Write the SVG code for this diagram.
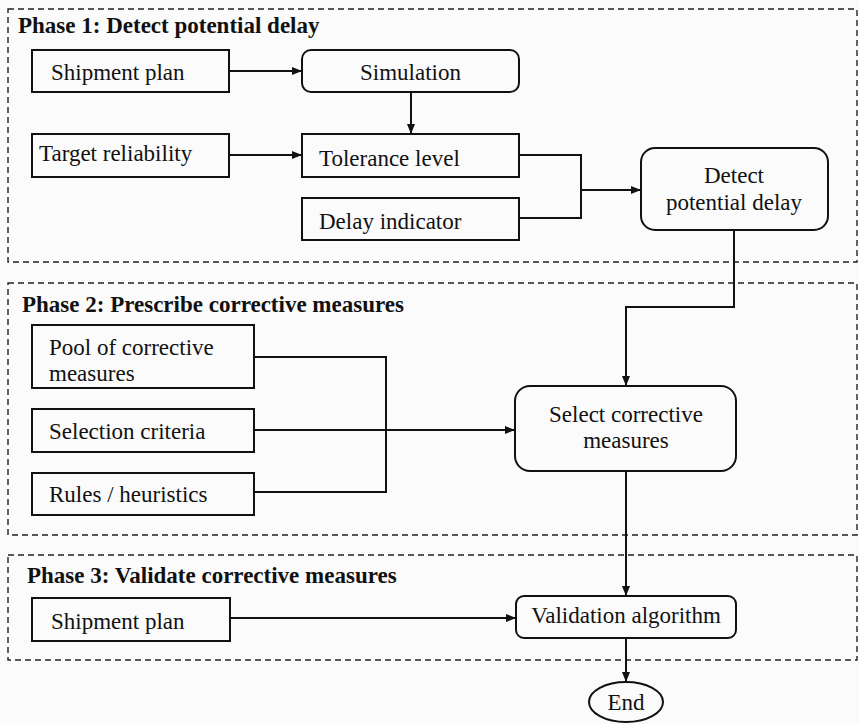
<svg xmlns="http://www.w3.org/2000/svg" width="859" height="724" viewBox="0 0 859 724">
<style>
.phase{fill:none;stroke:#222;stroke-width:1.4;stroke-dasharray:6 4}
.box{fill:none;stroke:#111;stroke-width:2}
.t{font-family:"Liberation Serif","Times New Roman",serif;font-size:23px;fill:#111}
.h{font-family:"Liberation Serif","Times New Roman",serif;font-size:23px;font-weight:bold;fill:#111}
.c{text-anchor:middle}
.ln{fill:none;stroke:#111;stroke-width:2}
</style>
<defs>
<marker id="ah" viewBox="0 0 10 8" refX="10" refY="4" markerWidth="10" markerHeight="8" markerUnits="userSpaceOnUse" orient="auto">
<path d="M0,0 L10,4 L0,8 Z" fill="#111"/>
</marker>
</defs>
<rect width="859" height="724" fill="#fbfbfb"/>
<g id="phase1">
<rect class="phase" x="8" y="9" width="849" height="253"/>
<text class="h" x="18" y="33">Phase 1: Detect potential delay</text>
</g>
<g id="phase2">
<rect class="phase" x="8" y="283" width="849" height="252"/>
<text class="h" x="22" y="312">Phase 2: Prescribe corrective measures</text>
</g>
<g id="phase3">
<rect class="phase" x="8" y="555" width="849" height="105"/>
<text class="h" x="27" y="583">Phase 3: Validate corrective measures</text>
</g>
<g id="shipment1"><rect class="box" x="32" y="50" width="197" height="42"/><text class="t" x="51" y="80">Shipment plan</text></g>
<g id="simulation"><rect class="box" x="302" y="50" width="217" height="42" rx="9"/><text class="t c" x="410.5" y="80">Simulation</text></g>
<g id="target"><rect class="box" x="32" y="134" width="197" height="43"/><text class="t" x="39" y="161">Target reliability</text></g>
<g id="tolerance"><rect class="box" x="302" y="134" width="217" height="43"/><text class="t" x="319" y="166">Tolerance level</text></g>
<g id="delayind"><rect class="box" x="302" y="198" width="217" height="42"/><text class="t" x="319" y="229">Delay indicator</text></g>
<g id="detect"><rect class="box" x="641" y="148" width="187" height="82" rx="14"/><text class="t c" x="734" y="183">Detect</text><text class="t c" x="734" y="210">potential delay</text></g>
<g id="pool"><rect class="box" x="32" y="325" width="222" height="63"/><text class="t" x="49" y="355">Pool of corrective</text><text class="t" x="49" y="381">measures</text></g>
<g id="criteria"><rect class="box" x="32" y="409" width="222" height="43"/><text class="t" x="49" y="439">Selection criteria</text></g>
<g id="rules"><rect class="box" x="32" y="473" width="222" height="42"/><text class="t" x="49" y="502">Rules / heuristics</text></g>
<g id="select"><rect class="box" x="515" y="386" width="221" height="85" rx="15"/><text class="t c" x="626" y="422">Select corrective</text><text class="t c" x="626" y="448">measures</text></g>
<g id="shipment2"><rect class="box" x="32" y="598" width="198" height="43"/><text class="t" x="51" y="629">Shipment plan</text></g>
<g id="validation"><rect class="box" x="516" y="596" width="220" height="42" rx="8"/><text class="t c" x="626" y="623">Validation algorithm</text></g>
<g id="end"><ellipse class="box" cx="626" cy="702" rx="37" ry="20"/><text class="t c" x="626" y="710">End</text></g>
<g id="connectors">
<path class="ln" d="M229,71 H302" marker-end="url(#ah)"/>
<path class="ln" d="M411,92 V134" marker-end="url(#ah)"/>
<path class="ln" d="M229,155 H302" marker-end="url(#ah)"/>
<path class="ln" d="M519,155 H581 V218 H519"/>
<path class="ln" d="M581,190 H641" marker-end="url(#ah)"/>
<path class="ln" d="M734,230 V307 H626 V386" marker-end="url(#ah)"/>
<path class="ln" d="M254,357 H386 V492 H254"/>
<path class="ln" d="M254,430 H515" marker-end="url(#ah)"/>
<path class="ln" d="M626,471 V596" marker-end="url(#ah)"/>
<path class="ln" d="M230,618 H516" marker-end="url(#ah)"/>
<path class="ln" d="M626,638 V682" marker-end="url(#ah)"/>
</g>
</svg>
